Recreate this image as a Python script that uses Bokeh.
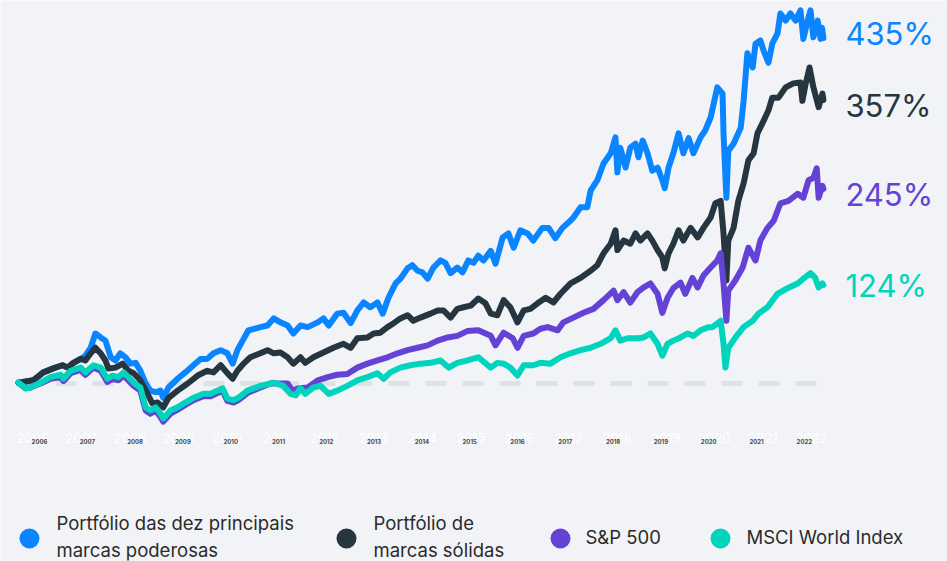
from bokeh.plotting import figure
from bokeh.models import Range1d, ColumnDataSource
from bokeh.core.properties import value
from bokeh.embed import file_html
from bokeh.resources import INLINE

# ---------------- data (fractional years, cumulative return in %) ----------------
blue_x = [2005.56, 2005.87, 2006.08, 2006.29, 2006.48, 2006.59, 2006.71, 2006.86,
          2006.96, 2007.07, 2007.17, 2007.28, 2007.38, 2007.49, 2007.59, 2007.69, 2007.80, 2007.90,
          2008.01, 2008.11, 2008.22, 2008.32, 2008.43, 2008.53, 2008.59, 2008.70, 2008.89, 2009.05,
          2009.22, 2009.37, 2009.51, 2009.64, 2009.79, 2009.93, 2010.04, 2010.14, 2010.25, 2010.37,
          2010.62, 2010.77, 2010.90, 2011.04, 2011.19, 2011.31, 2011.46, 2011.61, 2011.82, 2011.94,
          2012.05, 2012.23, 2012.36, 2012.51, 2012.65, 2012.78, 2012.92, 2013.07, 2013.18, 2013.30,
          2013.45, 2013.55, 2013.70, 2013.80, 2013.91, 2014.01, 2014.12, 2014.24, 2014.39, 2014.49,
          2014.60, 2014.74, 2014.85, 2014.97, 2015.08, 2015.18, 2015.29, 2015.44, 2015.54, 2015.69,
          2015.81, 2015.92, 2016.06, 2016.21, 2016.33, 2016.52, 2016.65, 2016.79, 2016.94, 2017.07,
          2017.17, 2017.32, 2017.46, 2017.53, 2017.67, 2017.80, 2017.95, 2018.05, 2018.09, 2018.15,
          2018.26, 2018.36, 2018.47, 2018.53, 2018.62, 2018.72, 2018.82, 2018.93, 2019.03, 2019.08,
          2019.16, 2019.26, 2019.37, 2019.47, 2019.58, 2019.68, 2019.83, 2019.93, 2020.04,
          2020.18, 2020.29, 2020.31, 2020.37, 2020.41, 2020.52, 2020.67, 2020.73, 2020.81, 2020.92,
          2020.98, 2021.08, 2021.15, 2021.25, 2021.33, 2021.44, 2021.50, 2021.61, 2021.71, 2021.82,
          2021.92, 2021.98, 2022.07, 2022.13, 2022.19, 2022.28, 2022.34, 2022.37, 2022.40]
blue_v = [1, 4, 14, 19, 23, 20, 26, 31,
          35, 45, 63, 58, 54, 33, 29, 38, 33, 25,
          26, 16, 0, -9, -11, -9, -18, -5, 6, 14,
          23, 31, 31, 38, 42, 38, 25, 42, 54, 67,
          71, 73, 82, 77, 73, 63, 73, 71, 77, 82,
          73, 88, 89, 76, 92, 102, 96, 102, 88, 108,
          126, 132, 145, 149, 142, 140, 132, 146, 155, 152,
          139, 146, 140, 155, 152, 161, 155, 167, 151, 184,
          189, 171, 193, 189, 180, 196, 196, 183, 196, 203,
          209, 222, 222, 243, 256, 277, 290, 310, 266, 297,
          272, 297, 302, 285, 306, 290, 268, 272, 256, 246,
          272, 290, 315, 290, 309, 290, 310, 319, 335,
          373, 365, 315, 234, 293, 302, 322, 356, 416, 398,
          428, 432, 419, 404, 428, 441, 466, 457, 466, 457,
          470, 434, 457, 470, 436, 457, 434, 448, 435]

dark_x = [2005.56, 2005.87, 2006.08, 2006.29, 2006.48, 2006.59, 2006.71, 2006.86, 2006.96, 2007.07,
          2007.17, 2007.28, 2007.38, 2007.44, 2007.59, 2007.74, 2007.86, 2007.97, 2008.11, 2008.26,
          2008.36, 2008.47, 2008.59, 2008.70, 2008.89, 2009.10, 2009.31, 2009.51, 2009.64, 2009.79,
          2009.93, 2010.04, 2010.14, 2010.27, 2010.41, 2010.62, 2010.77, 2010.90, 2011.04, 2011.19,
          2011.31, 2011.46, 2011.56, 2011.73, 2011.94, 2012.15, 2012.36, 2012.51, 2012.65, 2012.86,
          2012.99, 2013.13, 2013.28, 2013.41, 2013.55, 2013.70, 2013.82, 2013.97, 2014.18, 2014.33,
          2014.45, 2014.60, 2014.74, 2014.87, 2015.02, 2015.18, 2015.33, 2015.44, 2015.58, 2015.71,
          2015.85, 2016.00, 2016.13, 2016.27, 2016.42, 2016.59, 2016.75, 2016.90, 2017.11, 2017.32,
          2017.53, 2017.67, 2017.80, 2017.95, 2018.05, 2018.09, 2018.22, 2018.36, 2018.47, 2018.57,
          2018.72, 2018.82, 2018.93, 2019.03, 2019.08, 2019.16, 2019.26, 2019.37, 2019.47, 2019.62,
          2019.77, 2019.89, 2020.04, 2020.14, 2020.25, 2020.31, 2020.37, 2020.41, 2020.52, 2020.62,
          2020.73, 2020.83, 2020.94, 2021.02, 2021.15, 2021.25, 2021.33, 2021.46, 2021.61, 2021.77,
          2021.92, 2021.96, 2022.03, 2022.11, 2022.19, 2022.30, 2022.38, 2022.40]
dark_v = [1, 4, 14, 19, 23, 20, 26, 31, 29, 38,
          45, 38, 29, 19, 20, 25, 16, 13, 4, -13,
          -25, -24, -30, -18, -9, 0, 10, 16, 14, 23,
          13, 6, 16, 25, 33, 38, 42, 38, 39, 33,
          25, 33, 26, 33, 39, 45, 50, 45, 57, 58,
          63, 64, 71, 76, 82, 86, 79, 83, 88, 92,
          92, 83, 94, 96, 98, 107, 101, 88, 86, 105,
          96, 77, 92, 94, 101, 108, 102, 113, 126, 133,
          142, 149, 164, 176, 193, 168, 180, 176, 189, 180,
          189, 180, 168, 159, 145, 164, 176, 193, 180, 196,
          184, 196, 209, 227, 230, 189, 130, 180, 196, 230,
          252, 281, 290, 315, 331, 344, 360, 360, 373, 378,
          379, 356, 378, 398, 373, 348, 365, 357]

purple_x = [2005.56, 2005.71, 2005.81, 2006.02, 2006.23, 2006.44, 2006.50, 2006.65, 2006.86, 2006.96,
            2007.13, 2007.28, 2007.42, 2007.53, 2007.65, 2007.76, 2007.86, 2007.97, 2008.11, 2008.22,
            2008.32, 2008.43, 2008.53, 2008.59, 2008.74, 2008.89, 2009.05, 2009.22, 2009.43, 2009.58,
            2009.72, 2009.83, 2009.93, 2010.06, 2010.16, 2010.35,
            2010.62, 2010.83, 2011.04, 2011.19,
            2011.29, 2011.42, 2011.61, 2011.82, 2012.03, 2012.23, 2012.44, 2012.65, 2012.86, 2013.07,
            2013.28, 2013.49, 2013.70, 2013.91, 2014.12, 2014.33, 2014.54, 2014.74, 2014.95, 2015.18,
            2015.44, 2015.54, 2015.71, 2015.90, 2016.00, 2016.13, 2016.33, 2016.48, 2016.63, 2016.84,
            2016.96, 2017.17, 2017.38, 2017.59, 2017.80, 2018.01, 2018.09, 2018.22, 2018.36, 2018.51,
            2018.64, 2018.78, 2018.93, 2019.03, 2019.14, 2019.26, 2019.41, 2019.51, 2019.66, 2019.77,
            2019.89, 2020.04, 2020.18, 2020.25, 2020.31, 2020.37, 2020.41, 2020.56, 2020.71, 2020.83,
            2020.98, 2021.08, 2021.23, 2021.36, 2021.50, 2021.67, 2021.86, 2021.98, 2022.09, 2022.19,
            2022.26, 2022.30, 2022.38, 2022.40]
purple_v = [1, -6, -5, 0, 6, 8, 3, 13, 17, 11,
            20, 16, 2, 6, 4, 10, 4, -3, -9, -34,
            -38, -34, -42, -48, -38, -33, -27, -21, -16, -16,
            -12, -9, -22, -24, -21, -12,
            -5, 0, 0, 0,
            -9, -6, -5, 4, 8, 11, 12, 20, 25, 29,
            33, 38, 42, 45, 48, 54, 58, 60, 66, 67,
            60, 48, 64, 57, 45, 60, 63, 69, 71, 67,
            77, 83, 89, 94, 105, 117, 105, 115, 102, 115,
            121, 126, 113, 89, 108, 120, 127, 113, 133, 121,
            136, 146, 155, 164, 126, 79, 117, 130, 146, 171,
            155, 180, 196, 205, 227, 230, 239, 234, 256, 259,
            271, 234, 249, 245]

teal_x = [2005.56, 2005.71, 2005.81, 2006.02, 2006.23, 2006.44, 2006.50, 2006.65, 2006.86, 2006.96,
          2007.13, 2007.28, 2007.42, 2007.53, 2007.65, 2007.76, 2007.86, 2007.97, 2008.11, 2008.22,
          2008.32, 2008.43, 2008.53, 2008.59, 2008.74, 2008.89, 2009.05, 2009.22, 2009.43, 2009.58,
          2009.72, 2009.83, 2009.93, 2010.06, 2010.16, 2010.35, 2010.62, 2010.90, 2011.10, 2011.25,
          2011.36, 2011.46, 2011.56, 2011.73, 2011.88, 2012.05, 2012.23, 2012.44, 2012.65, 2012.86,
          2013.07, 2013.20, 2013.34, 2013.55, 2013.76, 2013.97, 2014.18, 2014.39, 2014.56, 2014.74,
          2014.95, 2015.18, 2015.44, 2015.58, 2015.71, 2015.85, 2016.00, 2016.13, 2016.33, 2016.48,
          2016.69, 2016.90, 2017.11, 2017.32, 2017.53, 2017.74, 2017.95, 2018.05, 2018.15, 2018.30,
          2018.51, 2018.64, 2018.78, 2018.93, 2019.03, 2019.14, 2019.26, 2019.41, 2019.56, 2019.68,
          2019.83, 2020.00, 2020.08, 2020.25, 2020.31, 2020.35, 2020.41, 2020.56, 2020.73, 2020.92,
          2021.04, 2021.23, 2021.44, 2021.65, 2021.86, 2021.98, 2022.13, 2022.23, 2022.30, 2022.38, 2022.40]
teal_v = [1, -6, -5, 1, 8, 11, 6, 16, 20, 14,
          23, 20, 6, 10, 8, 14, 8, 1, -5, -30,
          -34, -30, -38, -44, -34, -30, -24, -18, -13, -13,
          -9, -6, -19, -21, -18, -9, -3, 1, -3, -13,
          -15, -6, -13, -5, -3, -13, -9, -3, 4, 8,
          13, 6, 14, 20, 23, 25, 26, 29, 20, 26,
          29, 33, 20, 26, 25, 20, 10, 23, 23, 26,
          25, 33, 38, 42, 45, 50, 57, 67, 54, 57,
          57, 58, 63, 50, 35, 50, 54, 58, 63, 60,
          67, 71, 71, 79, 50, 20, 45, 58, 71, 79,
          88, 96, 113, 120, 126, 132, 139, 133, 121, 126, 124]

series_names = ["Portfólio das dez principais\nmarcas poderosas",
                "Portfólio de\nmarcas sólidas",
                "S&P 500",
                "MSCI World Index"]
end_labels = ["435%", "357%", "245%", "124%"]
tick_years = list(range(2006, 2023))
tick_labels = [str(y) for y in tick_years]

# ---------------- style / layout ----------------
BG = "#f1f3f7"
COLORS = ["#0a84ff", "#263640", "#6442d6", "#00d4bd"]
W, H = 947, 561
PX_YEAR, PX_PCT = 47.8, 0.794   # scale: page px per year / per percent


def data_x(px):  # page pixel -> data x (layout helper)
    return 2006 + (px - 39) / PX_YEAR


def data_y(py):  # page pixel -> data y (layout helper)
    return (383 - py) / PX_PCT


p = figure(width=W, height=H,
           x_range=Range1d(data_x(0), data_x(W)),
           y_range=Range1d(data_y(H), data_y(0)),
           x_axis_type=None, y_axis_type=None,
           output_backend="svg", toolbar_location=None,
           min_border=0, background_fill_color=BG, border_fill_color=BG,
           outline_line_color=None)
p.grid.visible = False

# zero baseline (dashed)
p.line([blue_x[0], blue_x[-1]], [0, 0], line_color="#dde1e8", line_width=5,
       line_dash="21 16")

xs = [blue_x, dark_x, purple_x, teal_x]
vs = [blue_v, dark_v, purple_v, teal_v]
for x, v, c in zip(xs, vs, COLORS):
    p.line(x, v, line_color=c, line_width=6, line_join="round", line_cap="round")

# end labels
end_src = ColumnDataSource(dict(
    x=[x[-1] for x in xs], y=[v[-1] for v in vs], text=end_labels, color=COLORS,
    yoff=[-5, 5, 6, 0]))
p.text(x="x", y="y", text="text", text_color="color", y_offset="yoff", x_offset=22,
       source=end_src, text_font=value("Inter"), text_font_size="31px",
       text_baseline="middle", text_align="left")

# faint large year labels
big_x = [data_x(32 + (y - 2006) * 48.7) for y in tick_years]
p.text(x=big_x, y=[data_y(437)] * len(tick_years), text=tick_labels,
       text_color="#ffffff", text_font=value("Inter"), text_font_size="13px",
       text_align="center", text_baseline="middle")
# small year tick labels
p.text(x=tick_years, y=[data_y(441)] * len(tick_years), text=tick_labels,
       text_color="#4a4a4a", text_font=value("Inter"), text_font_size="6px",
       text_font_style="bold", text_align="center", text_baseline="middle")

# legend
dot_px = [29, 346, 560, 720]
txt_px = [56, 373, 585, 746]
p.scatter(x=[data_x(d) for d in dot_px], y=[data_y(538)] * 4, size=20,
          color=COLORS, line_color=None)
p.text(x=[data_x(t) for t in txt_px], y=[data_y(536)] * 4, text=series_names,
       text_color="#2b2b2b", text_font=value("Inter"), text_font_size="18.5px",
       text_line_height=1.22, text_align="left", text_baseline="middle")

html = file_html(p, INLINE)
html = html.replace("<body>", '<body style="background-color:%s;">' % BG, 1)
open("out.html", "w").write(html)
